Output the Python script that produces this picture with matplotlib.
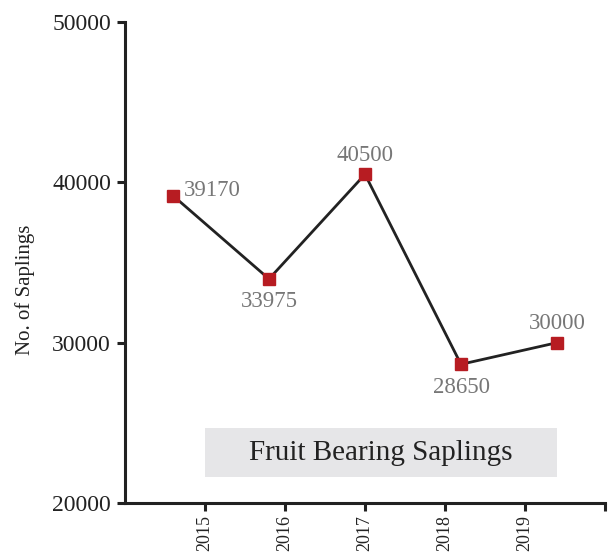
import matplotlib
matplotlib.use("Agg")
import matplotlib.pyplot as plt
from matplotlib.patches import Rectangle

years = ["2015", "2016", "2017", "2018", "2019"]
saplings = [39170, 33975, 40500, 28650, 30000]
label_pos = ["right", "below", "above", "below", "above"]
y_ticks = [20000, 30000, 40000, 50000]
title = "Fruit Bearing Saplings"

plt.rcParams['font.family'] = ['Liberation Serif', 'DejaVu Serif']

fig = plt.figure(figsize=(6.11, 5.54), dpi=100)
L, R, B, T = 125/611, 605/611, (554-503)/554, (554-22)/554
ax = fig.add_axes([L, B, R-L, T-B])

n = len(years)
xs = [i + 0.5 for i in range(n)]
ax.plot(xs, saplings, color="#222222", lw=2, zorder=2)
ax.plot(xs, saplings, ls="none", marker="s", ms=8.5, color="#B71C22", zorder=3)

for x, v, p in zip(xs, saplings, label_pos):
    if p == "right":
        ax.annotate(str(v), (x, v), xytext=(8, 4), textcoords="offset points",
                    ha="left", va="center", color="#777777", fontsize=16.5)
    elif p == "below":
        ax.annotate(str(v), (x, v), xytext=(0, -9), textcoords="offset points",
                    ha="center", va="top", color="#777777", fontsize=16.5)
    else:
        ax.annotate(str(v), (x, v), xytext=(0, 6), textcoords="offset points",
                    ha="center", va="bottom", color="#777777", fontsize=16.5)

ax.set_xlim(0, n)
ax.set_ylim(y_ticks[0], y_ticks[-1])
ax.set_yticks(y_ticks)
ax.set_yticklabels([str(t) for t in y_ticks], fontsize=17, color="#222222")
step = n / (n + 1)
ax.set_xticks([(i + 1) * step for i in range(n)] + [n])
ax.set_xticklabels(years + [""], rotation=90, fontsize=13, color="#222222")

for s in ["top", "right"]:
    ax.spines[s].set_visible(False)
for s in ["left", "bottom"]:
    ax.spines[s].set_linewidth(2.2)
    ax.spines[s].set_color("#222222")
ax.tick_params(axis="both", length=6, width=2.2, color="#222222")
ax.tick_params(axis="y", pad=4)
ax.tick_params(axis="x", pad=2.5)

ax.set_ylabel("No. of Saplings", fontsize=15, color="#222222", va="center")
ax.yaxis.set_label_coords(-0.208, 0.443)

# title box
x0 = step
x1 = n - 0.5
rect = Rectangle((x0, 20000 + 30000 * (503 - 477) / 481), x1 - x0,
                 30000 * (477 - 428) / 481, facecolor="#E6E6E8", edgecolor="none", zorder=1)
ax.add_patch(rect)
ax.text((x0 + x1) / 2, 20000 + 30000 * (503 - 453) / 481, title, ha="center", va="center",
        fontsize=21, color="#222222", zorder=2)

fig.savefig("out.png", dpi=100)
